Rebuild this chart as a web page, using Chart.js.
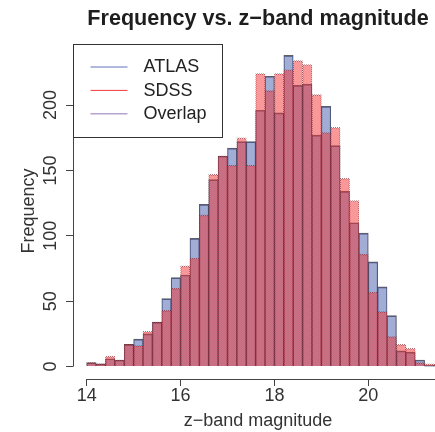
<!DOCTYPE html>
<html>
<head>
<meta charset="utf-8">
<script src="https://cdn.jsdelivr.net/npm/chart.js@4.4.1/dist/chart.umd.min.js"></script>
<style>
  html, body { margin: 0; padding: 0; background: #fff; overflow: hidden; }
  #wrap { position: relative; width: 460px; height: 432px; }
</style>
</head>
<body>
<div id="wrap"><canvas id="histChart"></canvas></div>
<script>
// z-band magnitude bins, 0.2 mag wide (bin centres)
const binCentres = [14.1, 14.3, 14.5, 14.7, 14.9, 15.1, 15.3, 15.5, 15.7, 15.9,
                    16.1, 16.3, 16.5, 16.7, 16.9, 17.1, 17.3, 17.5, 17.7, 17.9,
                    18.1, 18.3, 18.5, 18.7, 18.9, 19.1, 19.3, 19.5, 19.7, 19.9,
                    20.1, 20.3, 20.5, 20.7, 20.9, 21.1, 21.3, 21.5];

const atlasCounts = [3, 2, 6, 5, 17, 21, 25, 34, 52, 68,
                     70, 98, 124, 143, 161, 167, 172, 172, 196, 222,
                     194, 238, 215, 216, 177, 199, 169, 134, 110, 102,
                     80, 61, 39, 12, 11, 5, 1, 1];

const sdssCounts = [3, 2, 8, 5, 17, 16, 27, 34, 43, 60,
                    77, 83, 116, 147, 161, 154, 175, 154, 224, 211,
                    224, 227, 234, 231, 208, 179, 183, 144, 127, 86,
                    57, 42, 23, 17, 14, 3, 2, 2];

const xTickValues = [14, 16, 18, 20, 22];
const yTickValues = [0, 50, 100, 150, 200];
const legendLabels = ['ATLAS', 'SDSS', 'Overlap'];
const legendColours = ['#93a2d2', '#f23a3a', '#b6a4cf'];

Chart.defaults.font.family = '"Liberation Sans", Arial, sans-serif';

// dotted outline for the SDSS bars
function dottedStroke(colour) {
  const c = document.createElement('canvas');
  c.width = 2; c.height = 2;
  const g = c.getContext('2d');
  g.fillStyle = colour;
  g.fillRect(0, 0, 1, 1);
  g.fillRect(1, 1, 1, 1);
  return g.createPattern(c, 'repeat');
}

// base-graphics style axis lines, running from first to last tick only
const tickAxes = {
  id: 'tickAxes',
  afterDraw(chart) {
    const {ctx, chartArea, scales: {x, y}} = chart;
    ctx.save();
    ctx.strokeStyle = '#444';
    ctx.lineWidth = 1;
    const ax = Math.round(chartArea.left) + 0.5;
    const ay = Math.round(chartArea.bottom) + 0.5;
    ctx.beginPath();
    ctx.moveTo(ax, y.getPixelForValue(yTickValues[0]));
    ctx.lineTo(ax, y.getPixelForValue(yTickValues[yTickValues.length - 1]));
    ctx.moveTo(x.getPixelForValue(xTickValues[0]), ay);
    ctx.lineTo(x.getPixelForValue(xTickValues[xTickValues.length - 1]), ay);
    ctx.stroke();
    ctx.restore();
  }
};

// boxed legend in the top-left corner of the plot
const boxLegend = {
  id: 'boxLegend',
  afterDraw(chart) {
    const {ctx, chartArea} = chart;
    const left = Math.round(chartArea.left) + 0.5;
    const top = Math.round(chartArea.top) + 1.5;
    const widths = [1.5, 1, 1.5];
    ctx.save();
    ctx.fillStyle = '#fff';
    ctx.fillRect(left, top, 149, 93);
    ctx.strokeStyle = '#333';
    ctx.lineWidth = 1;
    ctx.strokeRect(left, top, 149, 93);
    ctx.font = '18px "Liberation Sans", Arial, sans-serif';
    ctx.textBaseline = 'middle';
    legendLabels.forEach((label, i) => {
      const rowY = top + 22.5 + i * 23.4;
      ctx.strokeStyle = legendColours[i];
      ctx.lineWidth = widths[i];
      ctx.beginPath();
      ctx.moveTo(left + 17, rowY);
      ctx.lineTo(left + 54, rowY);
      ctx.stroke();
      ctx.fillStyle = '#222';
      ctx.fillText(label, left + 70, rowY + 0.5);
    });
    ctx.restore();
  }
};

const axisFont = { size: 18 };

new Chart(document.getElementById('histChart'), {
  type: 'bar',
  data: {
    datasets: [
      {
        label: legendLabels[0],
        data: binCentres.map((m, i) => ({ x: m, y: atlasCounts[i] })),
        backgroundColor: 'rgba(58, 84, 168, 0.48)',
        borderColor: 'rgba(40, 40, 55, 0.75)',
        borderWidth: { top: 1, left: 0.5, right: 0.5, bottom: 0 },
        borderSkipped: false,
        order: 2
      },
      {
        label: legendLabels[1],
        data: binCentres.map((m, i) => ({ x: m, y: sdssCounts[i] })),
        backgroundColor: 'rgba(241, 50, 50, 0.5)',
        borderColor: dottedStroke('rgba(110, 20, 30, 0.6)'),
        borderWidth: { top: 1, left: 0.5, right: 0.5, bottom: 0 },
        borderSkipped: false,
        order: 1
      }
    ]
  },
  options: {
    responsive: true,
    maintainAspectRatio: false,
    animation: false,
    devicePixelRatio: 1,
    layout: { padding: { left: 0, right: 17, top: 0, bottom: 0 } },
    datasets: { bar: { grouped: false, barPercentage: 1, categoryPercentage: 1 } },
    plugins: {
      legend: { display: false },
      tooltip: { enabled: false },
      title: {
        display: true,
        text: 'Frequency vs. z\u2212band magnitude',
        fullSize: false,
        color: '#1e1e1e',
        font: { size: 21.6, weight: 'bold' },
        padding: { top: 6, bottom: 11 }
      }
    },
    scales: {
      x: {
        type: 'linear',
        min: 13.708,
        max: 21.592,
        offset: false,
        border: { display: false },
        grid: { offset: false, drawOnChartArea: false, tickLength: 7, tickColor: '#444' },
        afterBuildTicks: s => { s.ticks = xTickValues.map(v => ({ value: v })); },
        afterFit: s => {
          s.height = 53;
          // the 22 tick sits past the plot edge; don't shrink the plot for it
          s.paddingLeft = 0;
          s.paddingRight = 0;
        },
        ticks: {
          autoSkip: false,
          maxRotation: 0,
          padding: -1,
          color: '#333',
          font: axisFont,
          callback: v => String(v)
        },
        title: {
          display: true,
          text: 'z\u2212band magnitude',
          color: '#333',
          font: axisFont,
          padding: 0
        }
      },
      y: {
        min: -9.52,
        max: 247.52,
        border: { display: false },
        grid: { drawOnChartArea: false, tickLength: 7, tickColor: '#444' },
        afterBuildTicks: s => { s.ticks = yTickValues.map(v => ({ value: v })); },
        afterFit: s => { s.width = 73; },
        ticks: {
          minRotation: 90,
          maxRotation: 90,
          crossAlign: 'center',
          padding: 0,
          color: '#333',
          font: axisFont,
          callback: v => String(v)
        },
        title: {
          display: true,
          text: 'Frequency',
          color: '#333',
          font: axisFont,
          padding: { top: 18, bottom: 0 }
        }
      }
    }
  },
  plugins: [tickAxes, boxLegend]
});
</script>
</body>
</html>
